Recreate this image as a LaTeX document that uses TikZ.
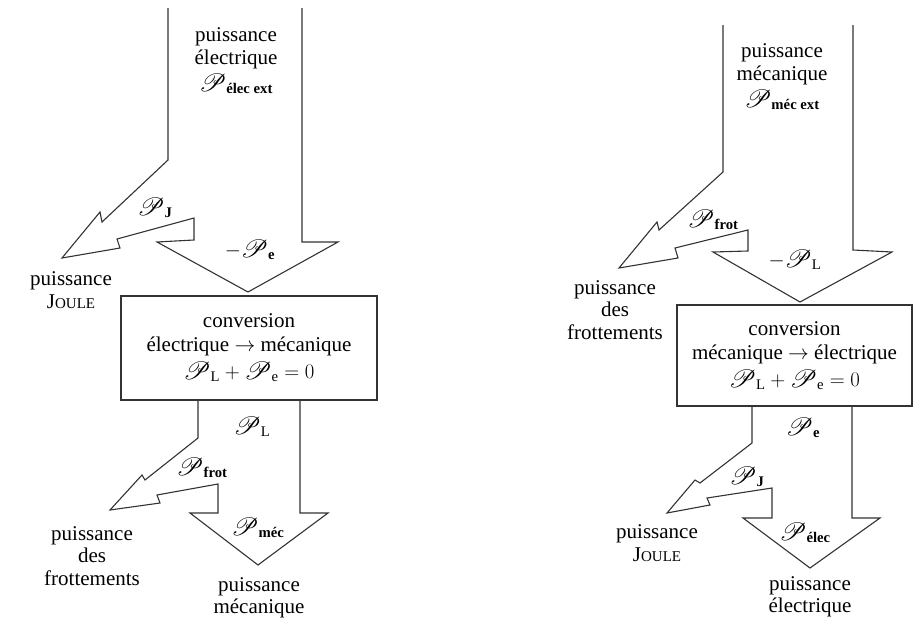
\documentclass[tikz,border=0pt]{standalone}
\usepackage{amsmath}
\usepackage{mathrsfs}
\usepackage{graphicx}
\usepackage{fontspec}
\setmainfont{Liberation Serif}
\usetikzlibrary{positioning}
\newcommand{\bigP}{\raisebox{-1pt}{\scalebox{1.2}{$\mathscr{P}$}}}
\newcommand{\Pw}[1]{\bigP_{\textbf{#1}}}
\newcommand{\Pn}[1]{\bigP_{\mathrm{#1}}}
\newcommand{\joulesc}{J{\fontsize{15}{18}\selectfont OULE}}

\begin{document}
\begin{tikzpicture}[x=1pt, y=-1pt,
   flow/.style = {draw=black!80, line width=1.1pt, fill=white, line join=miter},
    box/.style = {draw=black!80, line width=1.1pt, fill=white, align=center,
                  inner sep=0pt, font=\fontsize{21}{24}\selectfont},
    lbl/.style = {align=center, inner sep=0pt, font=\fontsize{21}{22.5}\selectfont},
         ]
\useasboundingbox (0,0) rectangle (916,621);

% left : electrical -> mechanical
\draw[flow] (168,8) -- (168,160) -- (102,222) -- (100,212) -- (62,258)
   -- (120,248) -- (117,239) -- (194,218) -- (194,240) -- (157,242)
   -- (248,292) -- (338,242) -- (302,242) -- (302,8);
\draw[flow] (198,400) -- (198,438) -- (145,480) -- (142,475) -- (110,510)
   -- (160,503) -- (157,495) -- (218,484) -- (218,513) -- (190,513)
   -- (258,565) -- (328,513) -- (300,513) -- (300,400);
\node (conv1) [box, minimum width=256pt, minimum height=104pt] at (249,348)
   {conversion\\ électrique $\rightarrow$ mécanique\\[3pt] $\Pn{L} + \Pn{e} = 0$};

\node (elecin)  [lbl] at (236,61)  {puissance\\ électrique\\[4pt] $\Pw{élec ext}$};
\node (pj1)     [lbl] at (155,208) {$\Pw{J}$};
\node (mpe)     [lbl] at (250,250) {$-\Pw{e}$};
\node (joule1)  [lbl] at (71,290)  {puissance\\ \joulesc};
\node (pl1)     [lbl] at (252,427) {$\Pn{L}$};
\node (pfrot1)  [lbl] at (202,468) {$\Pw{frot}$};
\node (pmec1)   [lbl] at (258,528) {$\Pw{méc}$};
\node (mecout)  [lbl] at (259,598) {puissance\\ mécanique};
\node (frot1)   [lbl] at (92,556)  {puissance\\ des\\ frottements};

% right : mechanical -> electrical
\draw[flow] (723,25) -- (723,172) -- (659,230) -- (657,222) -- (619,268)
   -- (678,258) -- (675,248) -- (748,230) -- (748,251) -- (713,252)
   -- (800,302) -- (892,252) -- (853,250) -- (853,25);
\draw[flow] (752,406) -- (752,443) -- (700,483) -- (695,480) -- (667,513)
   -- (710,505) -- (707,498) -- (772,488) -- (772,518) -- (743,518)
   -- (810,568) -- (880,518) -- (852,518) -- (852,406);
\node (conv2) [box, minimum width=235pt, minimum height=101pt] at (794.5,355.5)
   {conversion\\ mécanique $\rightarrow$ électrique\\[3pt] $\Pn{L} + \Pn{e} = 0$};

\node (mecin)   [lbl] at (782,77)  {puissance\\ mécanique\\[4pt] $\Pw{méc ext}$};
\node (pfrot2)  [lbl] at (713,220) {$\Pw{frot}$};
\node (mpl)     [lbl] at (795,260) {$-\Pn{L}$};
\node (frot2)   [lbl] at (615,310) {puissance\\ des\\ frottements};
\node (pe2)     [lbl] at (803,428) {$\Pw{e}$};
\node (pj2)     [lbl] at (747,477) {$\Pw{J}$};
\node (pelec2)  [lbl] at (805,533) {$\Pw{élec}$};
\node (elecout) [lbl] at (810,597) {puissance\\ électrique};
\node (joule2)  [lbl] at (657,543) {puissance\\ \joulesc};
\end{tikzpicture}
\end{document}
